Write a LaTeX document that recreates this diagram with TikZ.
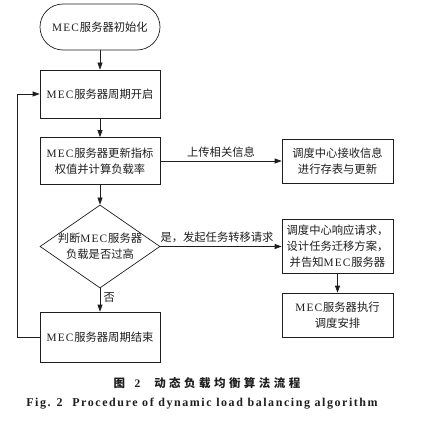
\documentclass[tikz,border=0pt]{standalone}
\usepackage{fontspec}
\setmainfont{Liberation Serif}
\newfontfamily\cjk{Noto Sans CJK SC}
\newfontfamily\latmec[LetterSpace=10]{Liberation Serif}
\newfontfamily\cjkcap[LetterSpace=30]{Noto Sans CJK SC}
\newfontfamily\engcap[LetterSpace=13]{Liberation Serif}
\usetikzlibrary{positioning, shapes.geometric, arrows.meta}
\definecolor{ink}{HTML}{1E1E1E}
\newcommand{\BoxF}{\fontsize{11.3}{16}\selectfont}
\newcommand{\MEC}{{\latmec MEC}\hspace{1pt}}
\tikzset{
  flowbox/.style={draw=ink, line width=0.7pt, minimum width=120pt, font=\BoxF\cjk, text=ink, align=center, inner sep=1pt},
  startstop/.style={flowbox, rounded corners=23pt, minimum height=46pt},
  sidebox/.style={flowbox, minimum width=111pt},
  decide/.style={draw=ink, line width=0.7pt, diamond, aspect=1.45, inner sep=-4pt, minimum width=120pt, minimum height=83pt, font=\BoxF\cjk, text=ink, align=center},
  flowarrow/.style={draw=ink, line width=0.7pt, -{Triangle[length=7pt,width=5pt]}},
  lbl/.style={font=\BoxF\cjk, text=ink}
}

\begin{document}
\begin{tikzpicture}[x=1pt,y=-1pt]
\useasboundingbox (0,0) rectangle (428,428);
% main column
\node[startstop] (init) at (100,27) {\MEC 服务器初始化};
\node[flowbox, minimum height=48pt] (cycstart) at (100,94) {\MEC 服务器周期开启};
\node[flowbox, minimum height=47pt] (update) at (100,161) {\MEC 服务器更新指标\\权值并计算负载率};
\node[decide] (judge) at (100,246.5) {判断\MEC 服务器\\负载是否过高};
\node[flowbox, minimum height=50pt] (cycend) at (100,337) {\MEC 服务器周期结束};
% dispatch centre
\node[sidebox, minimum height=44pt] (recv) at (337.5,161) {调度中心接收信息\\进行存表与更新};
\node[sidebox, minimum height=54pt] (resp) at (337.5,246.5) {调度中心响应请求，\\设计任务迁移方案，\\并告知\MEC 服务器};
\node[sidebox, minimum height=44pt] (exec) at (337.5,315) {\MEC 服务器执行\\调度安排};
% connectors
\draw[flowarrow] (init) -- (cycstart);
\draw[flowarrow] (cycstart) -- (update);
\draw[flowarrow] (update) -- (judge);
\draw[flowarrow] (judge) -- node[lbl, right, pos=0.4] {否} (cycend);
\draw[flowarrow] (cycend.west) -- ++(-22,0) |- (cycstart.west);
\draw[flowarrow] (update.east) -- node[lbl, above] {上传相关信息} (recv.west);
\draw[flowarrow] (judge.east) -- node[lbl, above, xshift=-4pt] {是，发起任务转移请求} (resp.west);
\draw[flowarrow] (resp) -- (exec);
% caption
\node[font=\fontsize{11.5}{13}\selectfont\cjkcap\bfseries, text=ink] (capzh) at (207,383) {图 \textrm{\textbf{2}}\hspace{1.2em}动态负载均衡算法流程};
\node[font=\fontsize{12}{13}\selectfont\engcap\bfseries, text=ink] (capen) at (202,404) {Fig. 2\hspace{0.8em}Procedure of dynamic load balancing algorithm};
\end{tikzpicture}
\end{document}
